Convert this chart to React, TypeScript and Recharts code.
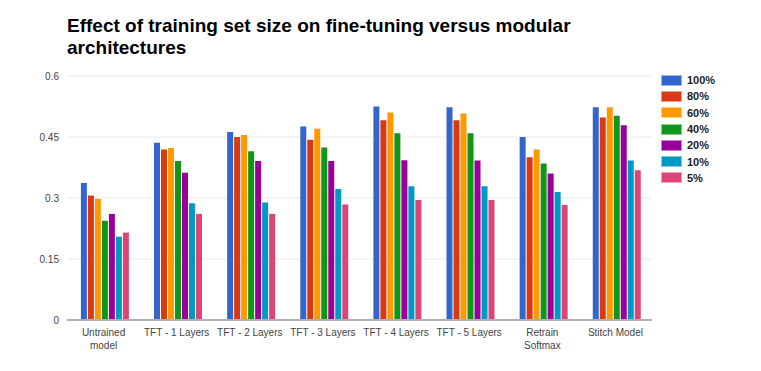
import { BarChart, Bar, XAxis, YAxis, CartesianGrid } from "recharts";

// categories (x axis)
const categories = [
  "Untrained model",
  "TFT - 1 Layers",
  "TFT - 2 Layers",
  "TFT - 3 Layers",
  "TFT - 4 Layers",
  "TFT - 5 Layers",
  "Retrain Softmax",
  "Stitch Model",
];

// one array per training set size
const pct100 = [0.337, 0.436, 0.462, 0.476, 0.525, 0.523, 0.45, 0.523];
const pct80 = [0.306, 0.419, 0.45, 0.443, 0.491, 0.491, 0.4, 0.498];
const pct60 = [0.298, 0.423, 0.455, 0.47, 0.51, 0.508, 0.419, 0.523];
const pct40 = [0.244, 0.391, 0.415, 0.424, 0.459, 0.459, 0.385, 0.502];
const pct20 = [0.261, 0.362, 0.391, 0.391, 0.393, 0.392, 0.36, 0.479];
const pct10 = [0.205, 0.287, 0.289, 0.322, 0.329, 0.329, 0.315, 0.392];
const pct5 = [0.215, 0.261, 0.261, 0.284, 0.295, 0.295, 0.283, 0.368];

const yTicks = [0, 0.15, 0.3, 0.45, 0.6];

const series = [
  { key: "100%", values: pct100, color: "#3366cc" },
  { key: "80%", values: pct80, color: "#dc3912" },
  { key: "60%", values: pct60, color: "#ff9900" },
  { key: "40%", values: pct40, color: "#109618" },
  { key: "20%", values: pct20, color: "#990099" },
  { key: "10%", values: pct10, color: "#0099c6" },
  { key: "5%", values: pct5, color: "#dd4477" },
];

const chartData = categories.map((name, i) => {
  const row: any = { name };
  series.forEach((s) => {
    row[s.key] = s.values[i];
  });
  return row;
});

const FONT = "'Liberation Sans', Arial, sans-serif";

// x labels wrap into two lines like google charts does
const WRAP: Record<string, string[]> = {
  "Untrained model": ["Untrained", "model"],
  "Retrain Softmax": ["Retrain", "Softmax"],
};

function XTick(props: any) {
  const { x, y, payload } = props;
  const lines = WRAP[payload.value] || [payload.value];
  return (
    <text x={x} y={y} textAnchor="middle" fill="#444" fontSize={10} fontFamily={FONT}>
      {lines.map((l, i) => (
        <tspan key={i} x={x} dy={i === 0 ? 8 : 13}>
          {l}
        </tspan>
      ))}
    </text>
  );
}

function LegendBox() {
  return (
    <div
      style={{
        position: "absolute",
        left: 661,
        top: 72,
        fontFamily: FONT,
        fontSize: 11,
        fontWeight: "bold",
        color: "#222",
      }}
    >
      {series.map((s) => (
        <div key={s.key} style={{ display: "flex", alignItems: "center", height: 16.3 }}>
          <span
            style={{
              display: "inline-block",
              width: 19,
              height: 9,
              background: s.color,
              border: "1px solid rgba(255,255,255,0.5)",
              marginRight: 5,
            }}
          />
          {s.key}
        </div>
      ))}
    </div>
  );
}

export default function App() {
  return (
    <div style={{ position: "absolute", left: 0, top: 0, width: 761, height: 371, background: "#fff" }}>
      <div
        style={{
          position: "absolute",
          left: 67,
          top: 15,
          fontFamily: FONT,
          fontWeight: "bold",
          fontSize: 19,
          lineHeight: "22px",
          color: "#000",
          whiteSpace: "nowrap",
        }}
      >
        Effect of training set size on fine-tuning versus modular
        <br />
        architectures
      </div>
      <BarChart
        width={761}
        height={371}
        data={chartData}
        margin={{ top: 76, right: 109, bottom: 21, left: 7 }}
        barCategoryGap="19%"
        barGap={1}
      >
        <CartesianGrid vertical={false} stroke="#ebebeb" />
        <XAxis
          dataKey="name"
          height={30}
          tick={<XTick />}
          tickLine={false}
          axisLine={{ stroke: "#b0b0b0", strokeWidth: 2 }}
          interval={0}
        />
        <YAxis
          width={60}
          domain={[0, 0.6]}
          ticks={yTicks}
          tickLine={false}
          axisLine={false}
          tick={{ fill: "#444", fontSize: 10, fontFamily: FONT }}
        />
        {series.map((s) => (
          <Bar key={s.key} dataKey={s.key} fill={s.color} isAnimationActive={false} />
        ))}
      </BarChart>
      <LegendBox />
    </div>
  );
}
